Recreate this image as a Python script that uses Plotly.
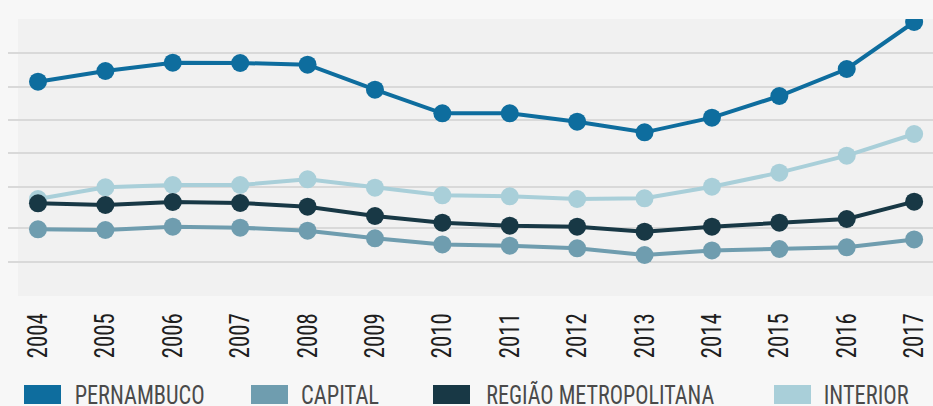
import plotly.graph_objects as go

# Annual series, 2004-2017
years = [2004, 2005, 2006, 2007, 2008, 2009, 2010, 2011, 2012, 2013, 2014, 2015, 2016, 2017]
pernambuco = [4575, 4735, 4860, 4855, 4830, 4455, 4100, 4100, 3975, 3815, 4035, 4360, 4765, 5470]
capital = [2360, 2350, 2400, 2385, 2340, 2225, 2133, 2115, 2075, 1975, 2043, 2065, 2090, 2208]
regiao_metropolitana = [2750, 2725, 2770, 2755, 2700, 2560, 2460, 2415, 2400, 2325, 2400, 2460, 2515, 2775]
interior = [2815, 2990, 3025, 3025, 3110, 2985, 2870, 2855, 2815, 2825, 3000, 3210, 3465, 3790]

grid_values = [1375, 1875, 2375, 3000, 3500, 4000, 4500, 5000, 5500]

series = [
    ("PERNAMBUCO", pernambuco, "#0e6d9e"),
    ("CAPITAL", capital, "#6f9daf"),
    ("REGIÃO METROPOLITANA", regiao_metropolitana, "#183845"),
    ("INTERIOR", interior, "#a9cfd9"),
]

FONT = "Roboto Condensed, Liberation Sans Narrow, sans-serif"

fig = go.Figure()

# draw order: lighter series underneath the darker ones
for idx in [3, 1, 2, 0]:
    name, vals, color = series[idx]
    fig.add_trace(go.Scatter(
        x=years, y=vals, name=name, mode="lines+markers",
        line=dict(color=color, width=4),
        marker=dict(color=color, size=18),
        showlegend=False,
    ))

W, H = 933, 406
L, R, T, B = 8, 0, 19, 110
pw, ph = W - L - R, H - T - B


def px_x(x):
    return (x - L) / pw


def px_y(y):
    return (H - B - y) / ph


shapes = [
    # plot panel background
    dict(type="rect", xref="paper", yref="paper", x0=px_x(18), x1=1, y0=0, y1=1,
         fillcolor="#f1f1f1", line=dict(width=0), layer="below"),
]
annotations = []

# legend built from swatches and labels: (label, colour, swatch left, text centre, text width)
legend_items = [
    ("PERNAMBUCO", "#0e6d9e", 24, 139, 130),
    ("CAPITAL", "#6f9daf", 251, 340, 78),
    ("REGIÃO METROPOLITANA", "#183845", 433, 600, 228),
    ("INTERIOR", "#a9cfd9", 774, 866.5, 85),
]
for label, color, sx, cx, tw in legend_items:
    shapes.append(dict(type="rect", xref="paper", yref="paper",
                       x0=px_x(sx), x1=px_x(sx + 37), y0=px_y(404), y1=px_y(385),
                       fillcolor=color, line=dict(width=0)))
    annotations.append(dict(xref="paper", yref="paper", x=px_x(cx), y=px_y(395),
                            text=label, showarrow=False, xanchor="center", yanchor="middle",
                            font=dict(family=FONT, size=26, color="#4a4a4a")))

fig.update_layout(
    width=W, height=H,
    margin=dict(l=L, r=R, t=T, b=B, pad=0),
    paper_bgcolor="#f7f7f7",
    plot_bgcolor="rgba(0,0,0,0)",
    shapes=shapes,
    annotations=annotations,
    xaxis=dict(
        range=[2003.555, 2017.28],
        tickvals=years, ticktext=[str(y) for y in years],
        tickangle=-90, showgrid=False, zeroline=False, showline=False,
        ticks="outside", ticklen=5, tickcolor="rgba(0,0,0,0)",
        tickfont=dict(family=FONT, size=28, color="#1e1e1e"),
        fixedrange=True,
    ),
    yaxis=dict(
        range=[1360, 5515],
        tickvals=grid_values, showticklabels=False,
        showgrid=True, gridcolor="#d9d9d9", gridwidth=2,
        zeroline=False, showline=False, fixedrange=True,
    ),
)

# narrow the condensed lettering to the set widths
widths_js = "[" + ",".join(str(it[4]) for it in legend_items) + "]"
post_script = """
var gd = document.getElementById('{plot_id}');
gd.querySelectorAll('.xtick text').forEach(function (t) {
  t.setAttribute('textLength', 45);
  t.setAttribute('lengthAdjust', 'spacingAndGlyphs');
});
var w = %s;
gd.querySelectorAll('.annotation-text').forEach(function (t, i) {
  if (i < w.length) {
    t.setAttribute('textLength', w[i]);
    t.setAttribute('lengthAdjust', 'spacingAndGlyphs');
  }
});
""" % widths_js

fig.write_html("out.html", post_script=post_script)
